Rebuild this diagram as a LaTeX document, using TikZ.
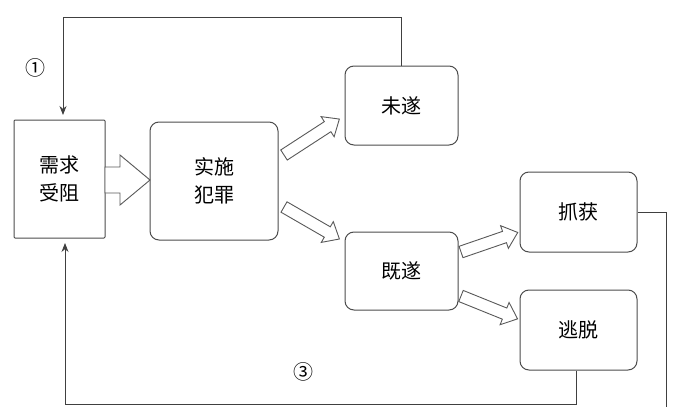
\documentclass[tikz,border=0pt]{standalone}
\usepackage{fontspec}
\newfontfamily\cjk{Noto Sans CJK SC}
\usetikzlibrary{arrows.meta}
\newcommand{\holarr}[7]{% x y angle len shaft-half head-half headlen
  \begin{scope}[shift={(#1,#2)},rotate=#3,x=1pt,y=1pt]
  \draw[hol] (0,-#5) -- ({#4-#7},-#5) -- ({#4-#7},-#6) -- (#4,0) -- ({#4-#7},#6) -- ({#4-#7},#5) -- (0,#5) -- cycle;
  \end{scope}}
\begin{document}
\begin{tikzpicture}[x=1pt,y=-1pt,
  box/.style={draw=black!70,line width=1pt,rounded corners=9pt,font=\cjk\fontsize{20}{28}\selectfont,align=center},
  hol/.style={draw=black!65,line width=0.9pt,fill=white,line join=miter},
  ln/.style={draw=black!75,line width=0.8pt}]
\useasboundingbox (0,0) rectangle (673,407);
\node[box,rounded corners=1pt,minimum width=91pt,minimum height=118pt] (need) at (59.5,179) {需求\\受阻};
\node[box,minimum width=128pt,minimum height=118pt] (act) at (214,181) {实施\\犯罪};
\node[box,minimum width=113pt,minimum height=79pt] (fail) at (401.5,105.5) {未遂};
\node[box,minimum width=113pt,minimum height=78pt] (done) at (401.5,271) {既遂};
\node[box,minimum width=117pt,minimum height=80pt] (catch) at (578.5,212) {抓获};
\node[box,minimum width=117pt,minimum height=80pt] (esc) at (578.5,330) {逃脱};
\holarr{105}{180}{0}{45}{13}{25}{30}
\holarr{284}{155}{33}{66}{6}{12}{14}
\holarr{284}{207}{-30}{64}{6}{12}{14}
\holarr{461}{252}{19}{60}{6}{12}{14}
\holarr{461}{296}{-22}{61}{6}{12}{14}
\coordinate (t2) at (63,17);
\draw[ln,-{Stealth[length=9pt,width=7pt]}] (fail.north) -- (fail.north |- t2) -- (t2) -- (63,115);
\coordinate (r1) at (666,212); \coordinate (r2) at (666,407);
\draw[ln] (catch.east) -- (r1) -- (r2);
\coordinate (b1) at (576,404); \coordinate (b2) at (65,404);
\draw[ln,-{Stealth[length=9pt,width=7pt]}] (esc.south -| b1) -- (b1) -- (b2) -- (65,243);
\node[font=\cjk\fontsize{20}{20}\selectfont] (c1) at (35,68) {①};
\node[font=\cjk\fontsize{20}{20}\selectfont] (c3) at (303,372) {③};
\end{tikzpicture}
\end{document}
